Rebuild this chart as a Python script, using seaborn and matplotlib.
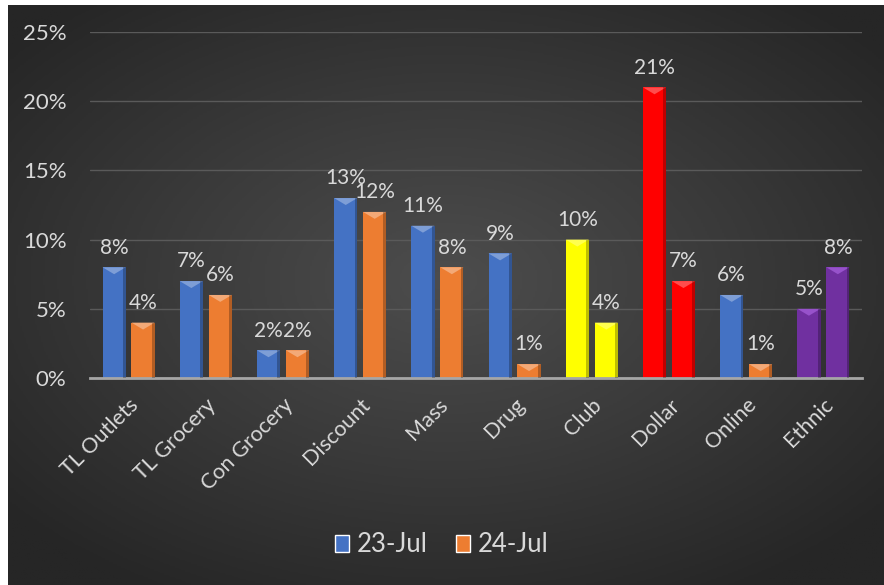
import numpy as np
import pandas as pd
import matplotlib.pyplot as plt
import matplotlib.patches as mpatches
import matplotlib.colors as mcolors
import colorsys
import seaborn as sns

categories = ["TL Outlets", "TL Grocery", "Con Grocery", "Discount", "Mass",
              "Drug", "Club", "Dollar", "Online", "Ethnic"]
jul23 = [8, 7, 2, 13, 11, 9, 10, 21, 6, 5]
jul24 = [4, 6, 2, 12, 8, 1, 4, 7, 1, 8]
series = ["23-Jul", "24-Jul"]

series_colors = {"23-Jul": "#4472C4", "24-Jul": "#ED7D31"}
# some categories are painted with their own colour in the original
special_colors = {"Club": "#FFFF00", "Dollar": "#FF0000", "Ethnic": "#7030A0"}
text_color = "#D9D9D9"

df = pd.DataFrame({
    "category": categories * 2,
    "period": [series[0]] * len(categories) + [series[1]] * len(categories),
    "value": jul23 + jul24,
})

sns.set_style("dark")
plt.rcParams["font.family"] = ["Lato", "DejaVu Sans"]

fig = plt.figure(figsize=(8.84, 5.85), dpi=100)
fig.patch.set_facecolor("white")

# dark radial gradient background
bg = fig.add_axes([8 / 884, 0, 1 - 8 / 884, 1 - 5 / 585], zorder=-10)
yy, xx = np.mgrid[-1:1:300j, -1:1:450j]
r = np.sqrt((xx * 0.95) ** 2 + ((yy + 0.05) * 1.0) ** 2)
bg.imshow(r, cmap=sns.blend_palette(["#4d4d4d", "#3a3a3a", "#262626"], as_cmap=True),
          aspect="auto", extent=[0, 1, 0, 1], vmin=0, vmax=1.25)
bg.axis("off")

ax = fig.add_axes([90 / 884, 1 - 378 / 585, 772 / 884, 346 / 585])
ax.set_facecolor("none")

sns.barplot(data=df, x="category", y="value", hue="period", palette=series_colors,
            width=0.75, gap=0.2, legend=False, ax=ax, saturation=1)


def lighter(c, amount=0.15):
    h, l, s = colorsys.rgb_to_hls(*mcolors.to_rgb(c))
    return colorsys.hls_to_rgb(h, min(1, l + amount), s)


n = len(categories)
for i, p in enumerate(ax.patches):
    cat = categories[i % n]
    base = special_colors.get(cat, series_colors[series[i // n]])
    p.set_facecolor(base)
    p.set_edgecolor("none")
    x, w, h = p.get_x(), p.get_width(), p.get_height()
    # bevel look: light triangle on top, shaded right edge
    ax.add_patch(mpatches.Polygon([(x, h), (x + w, h), (x + w / 2, h - 0.5)],
                                  closed=True, facecolor=lighter(base), edgecolor="none", zorder=3))
    ax.add_patch(mpatches.Rectangle((x + w * 0.88, 0), w * 0.12, h, facecolor="black",
                                    alpha=0.25, edgecolor="none", zorder=3))

for cont in ax.containers:
    ax.bar_label(cont, labels=[f"{v:.0f}%" for v in cont.datavalues],
                 padding=7, color=text_color, fontsize=15)

ax.set_ylim(0, 25)
ax.set_xlim(-0.5, n - 0.5)
ax.set_yticks(range(0, 26, 5))
ax.set_yticklabels([f"{v}%" for v in range(0, 26, 5)], color=text_color, fontsize=16)
ax.set_xticks(range(n))
ax.set_xticklabels(categories, rotation=45, ha="right", rotation_mode="anchor",
                   color=text_color, fontsize=15.5)
ax.tick_params(axis="y", length=0, pad=17)
ax.tick_params(axis="x", length=0, pad=12)
ax.set_xlabel("")
ax.set_ylabel("")
ax.grid(axis="y", color="#5a5a5a", linewidth=1)
ax.set_axisbelow(True)
for s in ["top", "right", "left"]:
    ax.spines[s].set_visible(False)
ax.spines["bottom"].set_color("#a6a6a6")
ax.spines["bottom"].set_linewidth(2)

handles = [mpatches.Patch(facecolor=series_colors[s], label=s) for s in series]
fig.legend(handles=handles, loc="center", bbox_to_anchor=(0.5, 1 - 545 / 585), ncol=2,
           frameon=False, fontsize=18.5, labelcolor=text_color, handlelength=0.55,
           handleheight=0.65, handletextpad=0.3, columnspacing=1.1)

plt.savefig("out.png", dpi=100)
plt.close()
